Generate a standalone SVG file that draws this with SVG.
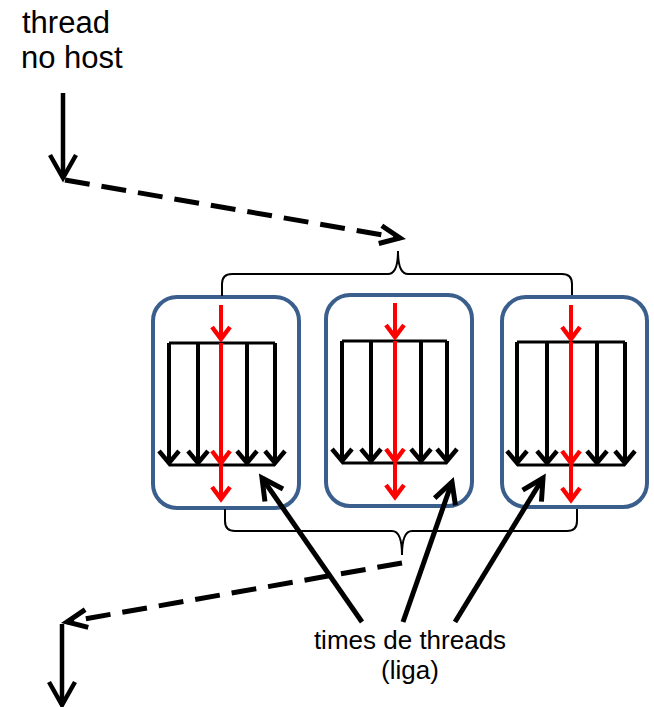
<svg xmlns="http://www.w3.org/2000/svg" width="654" height="707" viewBox="0 0 654 707">
  <style>
    .lbl { font-family: "Liberation Sans", Arial, sans-serif; fill: #000; }
    .box { fill: #fff; stroke: #3b5f8d; stroke-width: 4; }
    .bar { stroke: #000; stroke-width: 3; fill: none; }
    .blk { stroke: #000; stroke-width: 4; fill: none; marker-end: url(#hSmallK); }
    .red { stroke: #ff0000; stroke-width: 4; fill: none; marker-end: url(#hSmallR); }
    .brace { stroke: #000; stroke-width: 2; fill: none; }
    .flow { stroke: #000; stroke-width: 4.5; fill: none; marker-end: url(#hFlow); }
    .dash { stroke: #000; stroke-width: 5; fill: none; stroke-dasharray: 25 12; marker-end: url(#hDash); }
    .ptr { stroke: #000; stroke-width: 5; fill: none; marker-end: url(#hPtr); }
  </style>
  <defs>
    <marker id="hSmallK" markerUnits="userSpaceOnUse" viewBox="-16 -14 20 28" refX="0" refY="0" markerWidth="20" markerHeight="28" orient="auto" overflow="visible">
      <path d="M-12,-10 L0,0 L-12,10" fill="none" stroke="#000" stroke-width="4.5"/>
    </marker>
    <marker id="hSmallR" markerUnits="userSpaceOnUse" viewBox="-16 -14 20 28" refX="0" refY="0" markerWidth="20" markerHeight="28" orient="auto" overflow="visible">
      <path d="M-12,-9 L0,0 L-12,9" fill="none" stroke="#ff0000" stroke-width="4.5"/>
    </marker>
    <marker id="hFlow" markerUnits="userSpaceOnUse" viewBox="-30 -18 34 36" refX="0" refY="0" markerWidth="34" markerHeight="36" orient="auto" overflow="visible">
      <path d="M-23,-13 L0,0 L-23,13" fill="none" stroke="#000" stroke-width="4.5"/>
    </marker>
    <marker id="hDash" markerUnits="userSpaceOnUse" viewBox="-26 -14 30 28" refX="0" refY="0" markerWidth="30" markerHeight="28" orient="auto" overflow="visible">
      <path d="M-20,-9 L0,0 L-20,9" fill="none" stroke="#000" stroke-width="5"/>
    </marker>
    <marker id="hPtr" markerUnits="userSpaceOnUse" viewBox="-26 -16 30 32" refX="0" refY="0" markerWidth="30" markerHeight="32" orient="auto" overflow="visible">
      <path d="M-21,-11 L0,0 L-21,11" fill="none" stroke="#000" stroke-width="5"/>
    </marker>
  </defs>

  <rect width="654" height="707" fill="#fff"/>

  <!-- host thread label -->
  <g id="host-label">
    <text class="lbl" x="22" y="33" font-size="31">thread</text>
    <text class="lbl" x="21" y="68" font-size="31">no host</text>
  </g>

  <!-- team blocks -->
  <g id="team1">
    <rect class="box" x="153" y="297" width="146" height="211" rx="24"/>
    <line class="bar" x1="169" y1="343" x2="275" y2="343"/>
    <line class="bar" x1="169" y1="465" x2="275" y2="465"/>
    <line class="blk" x1="169" y1="343" x2="169" y2="463"/>
    <line class="blk" x1="198" y1="343" x2="198" y2="463"/>
    <line class="blk" x1="247" y1="343" x2="247" y2="463"/>
    <line class="blk" x1="275" y1="343" x2="275" y2="463"/>
    <line class="red" x1="221" y1="305" x2="221" y2="339"/>
    <line class="red" x1="221" y1="343" x2="221" y2="463"/>
    <line class="red" x1="221" y1="465" x2="221" y2="499"/>
  </g>
  <g id="team2">
    <rect class="box" x="326" y="295" width="146" height="211" rx="24"/>
    <line class="bar" x1="342" y1="341" x2="447" y2="341"/>
    <line class="bar" x1="342" y1="463" x2="447" y2="463"/>
    <line class="blk" x1="342" y1="341" x2="342" y2="461"/>
    <line class="blk" x1="371" y1="341" x2="371" y2="461"/>
    <line class="blk" x1="421" y1="341" x2="421" y2="461"/>
    <line class="blk" x1="447" y1="341" x2="447" y2="461"/>
    <line class="red" x1="395" y1="303" x2="395" y2="337"/>
    <line class="red" x1="395" y1="341" x2="395" y2="461"/>
    <line class="red" x1="395" y1="463" x2="395" y2="497"/>
  </g>
  <g id="team3">
    <rect class="box" x="502" y="297" width="145" height="210" rx="24"/>
    <line class="bar" x1="517" y1="342" x2="625" y2="342"/>
    <line class="bar" x1="517" y1="465" x2="625" y2="465"/>
    <line class="blk" x1="517" y1="342" x2="517" y2="463"/>
    <line class="blk" x1="547" y1="342" x2="547" y2="463"/>
    <line class="blk" x1="597" y1="342" x2="597" y2="463"/>
    <line class="blk" x1="625" y1="342" x2="625" y2="463"/>
    <line class="red" x1="571" y1="305" x2="571" y2="339"/>
    <line class="red" x1="571" y1="342" x2="571" y2="463"/>
    <line class="red" x1="571" y1="465" x2="571" y2="500"/>
  </g>

  <!-- fork / join braces -->
  <g id="braces">
    <path class="brace" d="M222,296 L222,284 Q222,274 232,274 L388,274 Q398,274 398,251 Q398,274 408,274 L562,274 Q572,274 572,284 L572,295"/>
    <path class="brace" d="M225,509 L225,521 Q225,531 235,531 L392,531 Q402,531 402,555 Q402,531 412,531 L567,531 Q577,531 577,521 L577,509"/>
  </g>

  <!-- connectors -->
  <g id="connectors">
    <line class="flow" x1="63" y1="93" x2="63" y2="178"/>
    <line class="dash" x1="65" y1="180" x2="400" y2="238"/>
    <line class="dash" x1="402" y1="563" x2="67" y2="622"/>
    <line class="flow" x1="62" y1="624" x2="62" y2="705"/>
    <line class="ptr" x1="362" y1="622" x2="262" y2="478"/>
    <line class="ptr" x1="403" y1="622" x2="452" y2="482"/>
    <line class="ptr" x1="455" y1="622" x2="543" y2="478"/>
  </g>

  <!-- team label -->
  <g id="team-label">
    <text class="lbl" x="410" y="649" font-size="26" text-anchor="middle">times de threads</text>
    <text class="lbl" x="410" y="679" font-size="26" text-anchor="middle">(liga)</text>
  </g>
</svg>
